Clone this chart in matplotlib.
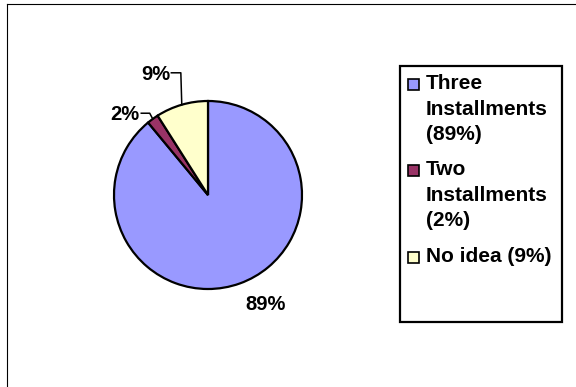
import numpy as np
import matplotlib.pyplot as plt
from matplotlib.patches import Rectangle
from matplotlib.lines import Line2D

plt.rcParams['font.family'] = ['Liberation Sans', 'DejaVu Sans']
plt.rcParams['font.weight'] = 'bold'

# data
labels = ['Three\nInstallments\n(89%)', 'Two\nInstallments\n(2%)', 'No idea (9%)']
values = [89, 2, 9]
pct_labels = ['89%', '2%', '9%']
colors = ['#9999FF', '#993366', '#FFFFCC']

# figure size in pixels
wdx = 576
wdy = 387
dpi = 100
fig = plt.figure(figsize=[wdx/dpi, wdy/dpi], dpi=dpi)

# pie axes: centre (208,195) px, radius ~94 px
cx, cy, half = 208, 195, 150
ax = fig.add_axes([(cx-half)/wdx, (wdy-cy-half)/wdy, 2*half/wdx, 2*half/wdy])

wedges, _ = ax.pie(values, colors=colors, startangle=90, counterclock=False,
                   radius=1.0, wedgeprops=dict(edgecolor='black', linewidth=1.6))
for w in wedges:
    w.set_clip_on(False)
lim = half / 94.0
ax.set_xlim(-lim, lim)
ax.set_ylim(-lim, lim)
ax.set_aspect('equal')
ax.axis('off')

# label positions (in radius units)
label_pos = [(0.61, -1.17), (-0.88, 0.86), (-0.56, 1.28)]
for i, (w, txt) in enumerate(zip(wedges, pct_labels)):
    tx, ty = label_pos[i]
    ax.text(tx, ty, txt, ha='center', va='center', fontsize=14.5, fontweight='bold')
    if i == 0:
        continue
    mid = np.deg2rad((w.theta1 + w.theta2) / 2.0)
    ex, ey = np.cos(mid), np.sin(mid)
    x0 = tx + 0.17
    if i == 1:
        xs = [x0, x0 + 0.09, ex]
        ys = [ty + 0.01, ty + 0.01, ey]
    else:
        xs = [x0, ex - 0.01, ex]
        ys = [ty + 0.02, ty + 0.02, ey]
    ax.plot(xs, ys, color='black', linewidth=1.1, clip_on=False)

# legend box
fig.add_artist(Rectangle((400/wdx, 1 - 322/wdy), 162/wdx, 256/wdy,
                         transform=fig.transFigure, facecolor='white',
                         edgecolor='black', linewidth=1.6))
tops = [77, 163, 250]
for lab, col, top in zip(labels, colors, tops):
    fig.add_artist(Rectangle((408/wdx, 1 - (top + 13)/wdy), 11/wdx, 11/wdy,
                             transform=fig.transFigure, facecolor=col,
                             edgecolor='black', linewidth=1.2))
    fig.text(426/wdx, 1 - (top - 3)/wdy, lab, ha='left', va='top',
             fontsize=15, fontweight='bold', linespacing=1.45)

# outer frame (left and top only visible)
fig.add_artist(Line2D([6.5/wdx, 6.5/wdx], [0, 1 - 3.5/wdy], transform=fig.transFigure,
                      color='black', linewidth=0.8))
fig.add_artist(Line2D([6.5/wdx, 1], [1 - 3.5/wdy, 1 - 3.5/wdy], transform=fig.transFigure,
                      color='black', linewidth=0.8))

plt.savefig('out.png', dpi=dpi)
